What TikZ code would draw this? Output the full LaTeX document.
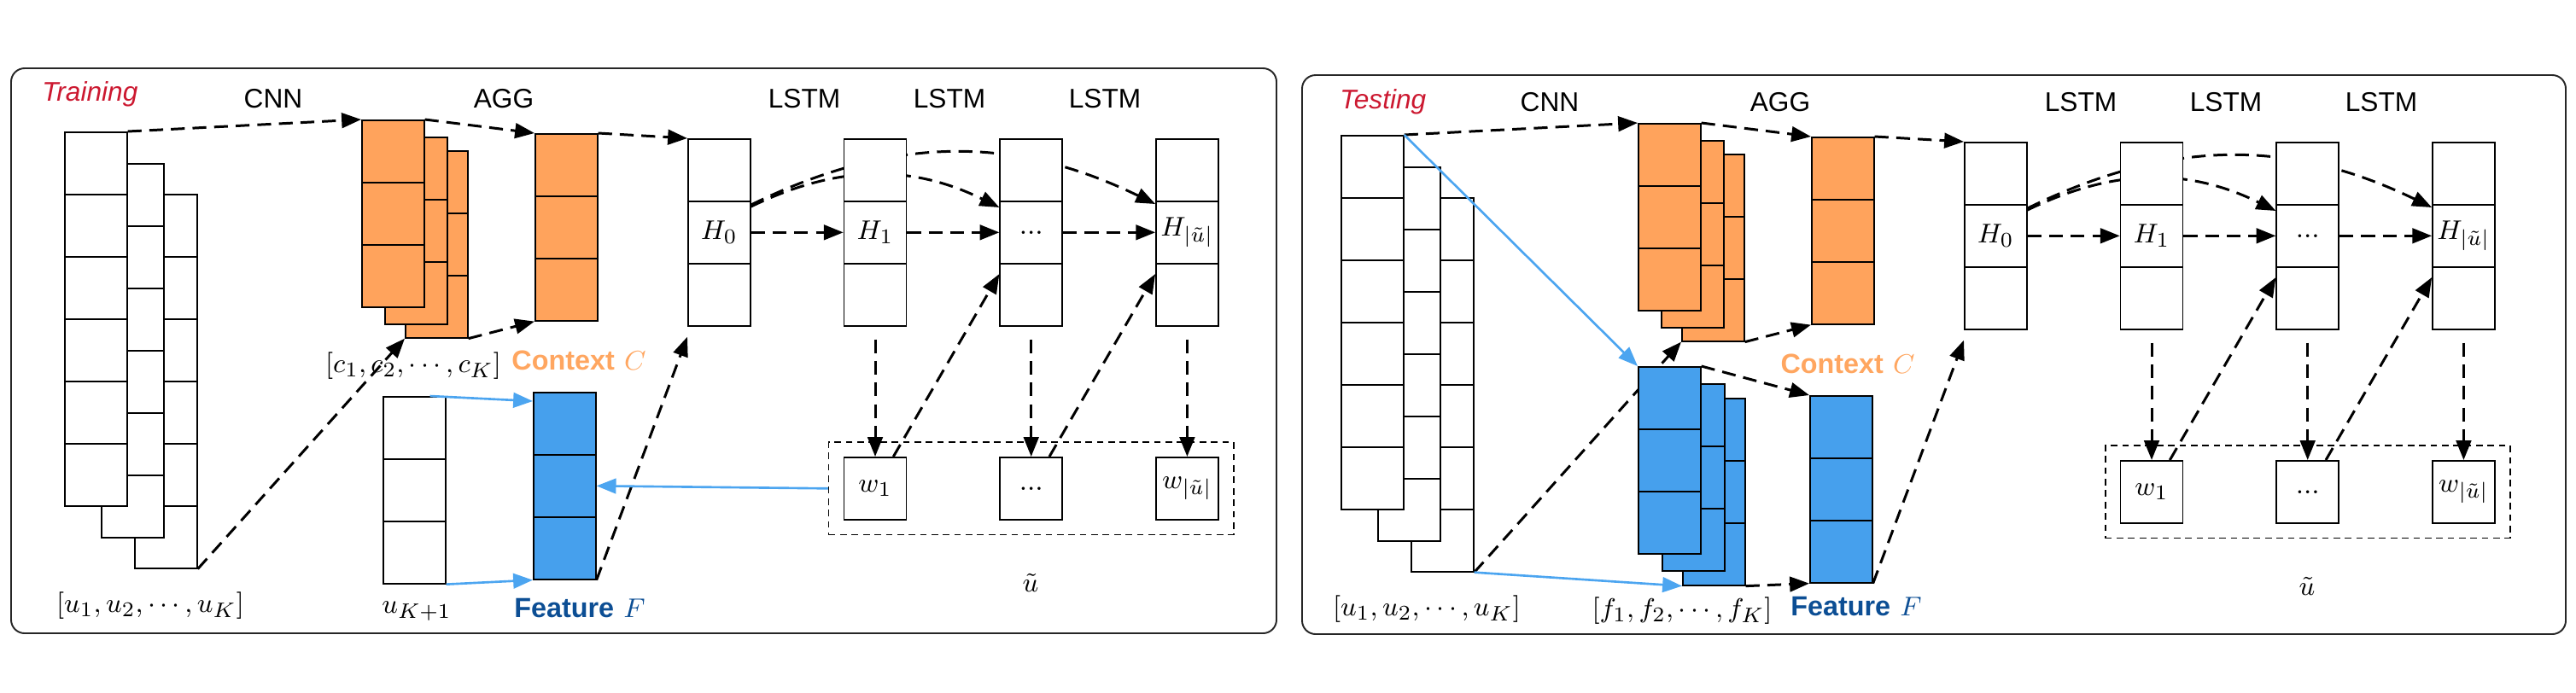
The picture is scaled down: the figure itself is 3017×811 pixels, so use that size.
\documentclass[tikz,border=0pt]{standalone}
\usepackage{fontspec}
\newfontfamily\helv{Liberation Sans}
\usetikzlibrary{arrows.meta,fit,backgrounds}
\definecolor{ctxorange}{RGB}{255,163,92}
\definecolor{ctxtext}{RGB}{255,166,96}
\definecolor{featblue}{RGB}{70,160,237}
\definecolor{linkblue}{RGB}{76,165,240}
\definecolor{feattext}{RGB}{12,78,148}
\definecolor{stagered}{RGB}{204,24,48}

\begin{document}
\begin{tikzpicture}
[x=0.01cm,y=-0.01cm,font=\fontsize{9.5}{11}\selectfont,
  cell/.style={draw,fill=white,line width=0.45pt,minimum size=0.73cm,inner sep=0pt,anchor=north west},
  flowarrow/.style={-{Triangle[length=6.5pt,width=5pt]},line width=0.85pt,dash pattern=on 4.6pt off 2.6pt},
  featarrow/.style={-{Triangle[length=6.5pt,width=5pt]},line width=0.75pt,draw=linkblue},
  wordframe/.style={draw,line width=0.45pt,dash pattern=on 2.2pt off 1.6pt,inner sep=0.17cm},
  panelframe/.style={draw=black!85,line width=0.55pt,rounded corners=4.5pt},
  stepname/.style={font=\helv\fontsize{9}{11}\selectfont},
  stagename/.style={font=\helv\itshape\fontsize{9}{11}\selectfont,text=stagered,anchor=west}]
\useasboundingbox (0,0) rectangle (3017,811);
%% frames of the two stages
\draw[panelframe] (13,80) rectangle (1495,742);
\draw[panelframe] (1525,88) rectangle (3005,743);
\node[stagename] at (37,110) {Training};
\node[stagename] at (1557,119) {Testing};
%% layout shared by both stages
\foreach \p/\dx/\dy/\cx/\fy in {tr/0/0/678/713, te/1495/4/669/707} {
\begin{scope}[shift={(\dx,\dy)}]
  %% stacked columns: name/x/y/cells/fill
  \foreach \c/\x/\y/\n/\f in {uc/157/227/6/white, ub/118/191/6/white,
      ua/75/154/6/white, oc/474/176/3/ctxorange, ob/450/160/3/ctxorange,
      oa/423/140/3/ctxorange, ctx/626/156/3/ctxorange, feat/624/459/3/featblue}
    \foreach \k in {1,...,\n}
      \node[cell,fill=\f] (\p\c-\k) at (\x,{\y+(\k-1)*73}) {};
  %% hidden states and words
  \foreach \i/\lab in {0/{$H_0$}, 1/{$H_1$}, 2/{...}, 3/{$H_{|\tilde u|}$}} {
    \node[cell] (\p H\i-1) at ({805+\i*182.7},162) {};
    \node[cell] (\p H\i-2) at ({805+\i*182.7},235) {\lab};
    \node[cell] (\p H\i-3) at ({805+\i*182.7},308) {};
  }
  \foreach \i/\lab in {1/{$w_1$}, 2/{...}, 3/{$w_{|\tilde u|}$}}
    \node[cell] (\p w\i) at ({805+\i*182.7},535) {\lab};
  \node[wordframe,fit=(\p w1)(\p w3)] (\p words) {};
  %% labels
  \foreach \txt/\x in {CNN/320, AGG/590, LSTM/942, LSTM/1112, LSTM/1294}
    \node[stepname] at (\x,116) {\txt};
  \node at (176,710) {$[u_1,u_2,\cdots,u_K]$};
  \node[text=ctxtext] at (\cx,422) {{\helv\bfseries\fontsize{9.2}{11}\selectfont Context} $C$};
  \node[text=feattext] at (679,\fy) {{\helv\bfseries\fontsize{9.2}{11}\selectfont Feature} $F$};
  \node at (1207,683) {$\tilde u$};
  %% edges
  \draw[flowarrow] (\p ua-1.north east) -- (\p oa-1.north west);
  \draw[flowarrow] (\p oa-1.north east) -- (\p ctx-1.north west);
  \draw[flowarrow] (\p oc-3.south east) -- (\p ctx-3.south west);
  \draw[flowarrow] (\p ctx-1.north east) -- (\p H0-1.north west);
  \draw[flowarrow] (\p feat-3.south east) -- ([yshift=-0.12cm]\p H0-3.south west);
  \foreach \i/\j in {0/1, 1/2, 2/3}
    \draw[flowarrow] (\p H\i-2.east) -- (\p H\j-2.west);
  \foreach \i in {1,2,3}
    \draw[flowarrow,shorten <=0.15cm] (\p H\i-3.south) -- (\p w\i.north);
  \foreach \i/\j in {1/2, 2/3}
    \draw[flowarrow] ([xshift=-0.16cm]\p w\i.north east) -- ([yshift=-0.13cm]\p H\j-3.north west);
  \begin{pgfonlayer}{background}
    \draw[flowarrow] ([yshift=-0.07cm]\p H0-2.north east) to[bend left=26] ([yshift=-0.08cm]\p H2-2.north west);
    \draw[flowarrow] ([yshift=-0.05cm]\p H0-2.north east) to[bend left=26] ([yshift=-0.04cm]\p H3-2.north west);
    \draw[flowarrow] (\p uc-6.south east) -- (\p oc-3.south west);
  \end{pgfonlayer}
\end{scope}
}
%% training: the next utterance gives the feature
\foreach \k in {1,2,3}
  \node[cell] (uk-\k) at (448,{464+(\k-1)*73}) {};
\node at (488,716) {$u_{K+1}$};
\node at (484,429) {$[c_1,c_2,\cdots,c_K]$};
\draw[featarrow] ([xshift=-0.19cm]uk-1.north east) -- ([yshift=-0.11cm]trfeat-1.north west);
\draw[featarrow] (uk-3.south east) -- (trfeat-3.south west);
\draw[featarrow] (trwords.west) -- (trfeat-2.east);
%% testing: the context gives the feature
\foreach \c/\x/\y in {fc/1970/466, fb/1946/449, fa/1918/429}
  \foreach \k in {1,2,3}
    \node[cell,fill=featblue] (\c-\k) at (\x,{\y+(\k-1)*73}) {};
\node at (1970,716) {$[f_1,f_2,\cdots,f_K]$};
\draw[featarrow] (teua-1.north east) -- (fa-1.north west);
\draw[featarrow] (teuc-6.south east) -- (fc-3.south west);
\draw[flowarrow] (fa-1.north east) -- (tefeat-1.north west);
\draw[flowarrow] (fc-3.south east) -- (tefeat-3.south west);
\end{tikzpicture}
\end{document}
